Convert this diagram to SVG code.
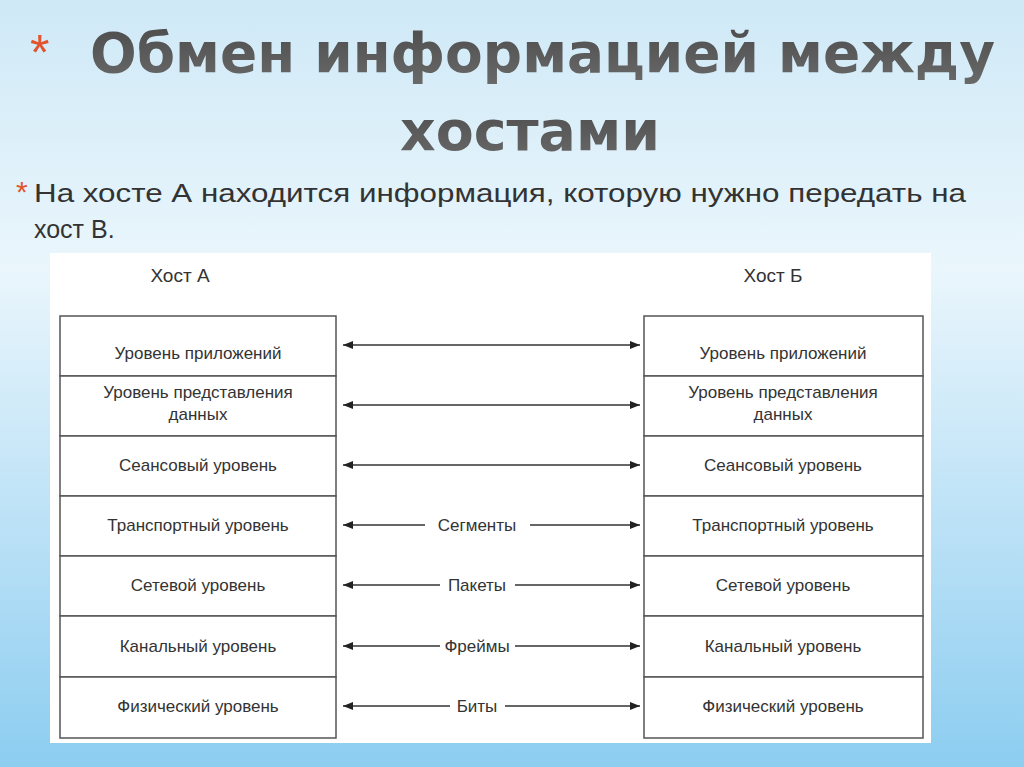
<svg xmlns="http://www.w3.org/2000/svg" width="1024" height="767" viewBox="0 0 1024 767">
<defs>
<linearGradient id="bg" x1="0" y1="0" x2="0" y2="1">
<stop offset="0" stop-color="#cfe9f7"/><stop offset="0.35" stop-color="#eaf6fc"/><stop offset="0.7" stop-color="#b9e0f6"/><stop offset="1" stop-color="#8ccdf0"/>
</linearGradient>
<linearGradient id="tt" x1="0" y1="0" x2="0" y2="1"><stop offset="0" stop-color="#4a4a4a"/><stop offset="1" stop-color="#6a6a6a"/></linearGradient>
<marker id="ah" viewBox="0 0 10 10" refX="10" refY="5" markerWidth="14" markerHeight="10" markerUnits="userSpaceOnUse" orient="auto-start-reverse"><path d="M0,1 L10,5 L0,9 z" fill="#222"/></marker>
<style>
.t{font-family:"Liberation Sans",Arial,sans-serif;font-size:17px;fill:#333;text-anchor:middle}
.box{fill:#fff;stroke:#555;stroke-width:1.5}
.ln{stroke:#333;stroke-width:1.5;fill:none}
.ttl{font-family:"DejaVu Sans",sans-serif;font-weight:bold;font-size:56px;fill:url(#tt)}
.bd{font-family:"Liberation Sans",sans-serif;font-size:25px;fill:#333}
</style>
</defs>
<rect width="1024" height="767" fill="url(#bg)"/>
<text x="30" y="70" font-family="Liberation Sans,sans-serif" font-size="50" fill="#e2552c">*</text>
<text x="90" y="72" class="ttl" textLength="905" lengthAdjust="spacingAndGlyphs">Обмен информацией между</text>
<text x="400" y="150" class="ttl" textLength="260" lengthAdjust="spacingAndGlyphs">хостами</text>
<text x="16" y="202" font-family="Liberation Sans,sans-serif" font-size="30" fill="#e2552c">*</text>
<text x="34" y="202" class="bd" textLength="932" lengthAdjust="spacingAndGlyphs">На хосте А находится информация, которую нужно передать на</text>
<text x="34" y="238" class="bd">хост В.</text>
<rect x="50" y="253" width="881" height="490" fill="#fff"/>
<text x="180" y="282" class="t" style="font-size:19px">Хост А</text>
<text x="773" y="282" class="t" style="font-size:19px">Хост Б</text>
<g id="left">
<rect class="box" x="60" y="316" width="276" height="60"/><text class="t" x="198" y="359">Уровень приложений</text>
<rect class="box" x="60" y="376" width="276" height="60"/><text class="t" x="198" y="398">Уровень представления</text><text class="t" x="198" y="420">данных</text>
<rect class="box" x="60" y="436" width="276" height="60"/><text class="t" x="198" y="471">Сеансовый уровень</text>
<rect class="box" x="60" y="496" width="276" height="60"/><text class="t" x="198" y="531">Транспортный уровень</text>
<rect class="box" x="60" y="556" width="276" height="60"/><text class="t" x="198" y="591">Сетевой уровень</text>
<rect class="box" x="60" y="616" width="276" height="61"/><text class="t" x="198" y="652">Канальный уровень</text>
<rect class="box" x="60" y="677" width="276" height="61"/><text class="t" x="198" y="712">Физический уровень</text>
</g>
<g id="right">
<rect class="box" x="644" y="316" width="279" height="60"/><text class="t" x="783" y="359">Уровень приложений</text>
<rect class="box" x="644" y="376" width="279" height="60"/><text class="t" x="783" y="398">Уровень представления</text><text class="t" x="783" y="420">данных</text>
<rect class="box" x="644" y="436" width="279" height="60"/><text class="t" x="783" y="471">Сеансовый уровень</text>
<rect class="box" x="644" y="496" width="279" height="60"/><text class="t" x="783" y="531">Транспортный уровень</text>
<rect class="box" x="644" y="556" width="279" height="60"/><text class="t" x="783" y="591">Сетевой уровень</text>
<rect class="box" x="644" y="616" width="279" height="61"/><text class="t" x="783" y="652">Канальный уровень</text>
<rect class="box" x="644" y="677" width="279" height="61"/><text class="t" x="783" y="712">Физический уровень</text>
</g>
<g id="connectors">
<line class="ln" x1="343" y1="345" x2="640" y2="345" marker-start="url(#ah)" marker-end="url(#ah)"/>
<line class="ln" x1="343" y1="405" x2="640" y2="405" marker-start="url(#ah)" marker-end="url(#ah)"/>
<line class="ln" x1="343" y1="465" x2="640" y2="465" marker-start="url(#ah)" marker-end="url(#ah)"/>
<line class="ln" x1="343" y1="525" x2="425" y2="525" marker-start="url(#ah)"/><line class="ln" x1="530" y1="525" x2="640" y2="525" marker-end="url(#ah)"/>
<text class="t" x="477" y="531">Сегменты</text>
<line class="ln" x1="343" y1="585" x2="440" y2="585" marker-start="url(#ah)"/><line class="ln" x1="515" y1="585" x2="640" y2="585" marker-end="url(#ah)"/>
<text class="t" x="477" y="591">Пакеты</text>
<line class="ln" x1="343" y1="646" x2="440" y2="646" marker-start="url(#ah)"/><line class="ln" x1="515" y1="646" x2="640" y2="646" marker-end="url(#ah)"/>
<text class="t" x="477" y="652">Фреймы</text>
<line class="ln" x1="343" y1="706" x2="450" y2="706" marker-start="url(#ah)"/><line class="ln" x1="505" y1="706" x2="640" y2="706" marker-end="url(#ah)"/>
<text class="t" x="477" y="712">Биты</text>
</g>
</svg>
